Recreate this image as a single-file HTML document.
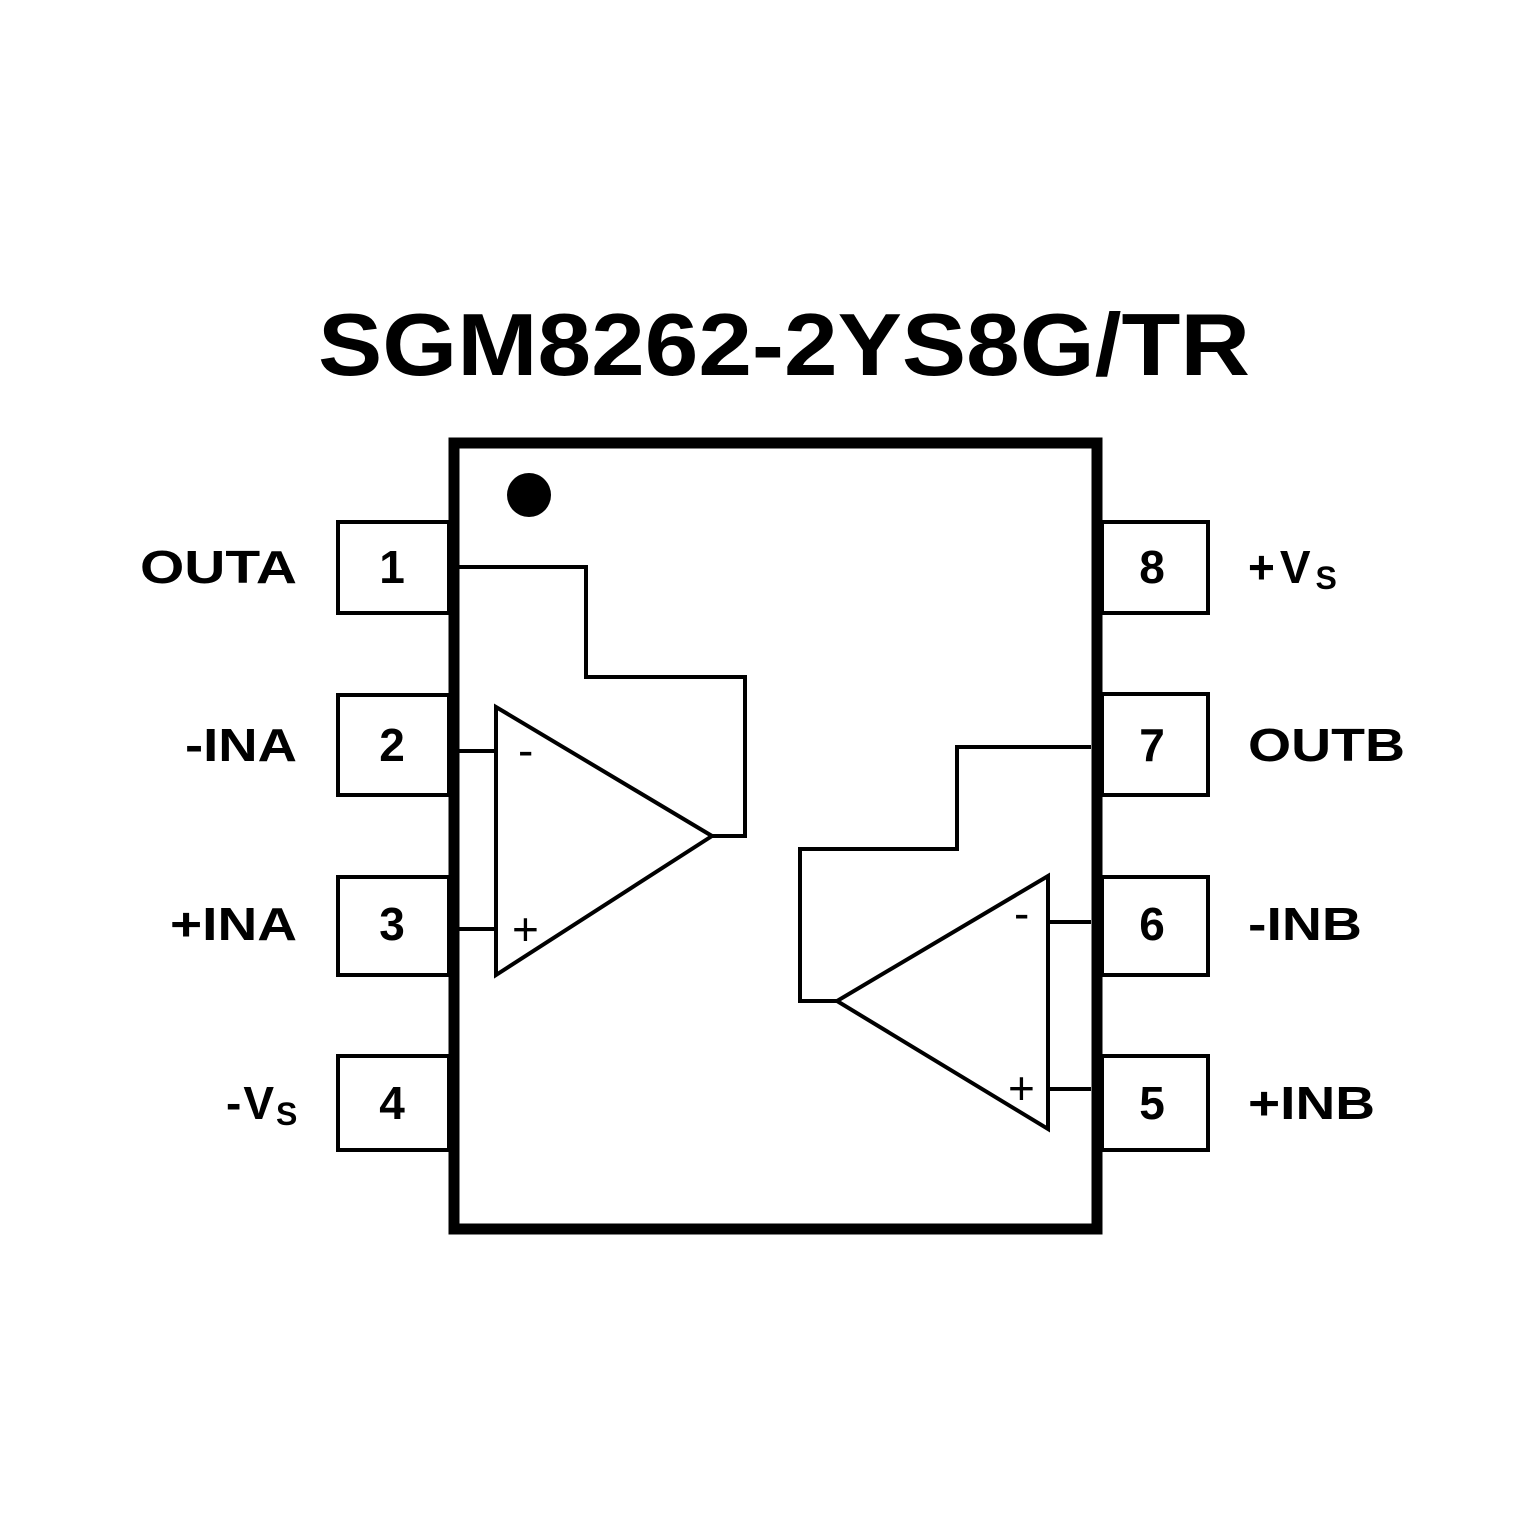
<!DOCTYPE html>
<html><head><meta charset="utf-8"><style>html,body{margin:0;padding:0;background:#fff}</style></head>
<body>
<svg width="1535" height="1535" viewBox="0 0 1535 1535" xmlns="http://www.w3.org/2000/svg">
<rect width="1535" height="1535" fill="#fff"/>
<text x="318" y="375" font-family="Liberation Sans, sans-serif" font-weight="bold" font-size="88" textLength="932" lengthAdjust="spacingAndGlyphs">SGM8262-2YS8G/TR</text>
<g fill="none" stroke="#000" stroke-width="4">
<rect x="338" y="522" width="111" height="91"/>
<rect x="338" y="695" width="111" height="100"/>
<rect x="338" y="877" width="111" height="98"/>
<rect x="338" y="1056" width="111" height="94"/>
<rect x="1102" y="522" width="106" height="91"/>
<rect x="1102" y="694" width="106" height="101"/>
<rect x="1102" y="877" width="106" height="98"/>
<rect x="1102" y="1056" width="106" height="94"/>
</g>
<rect x="454" y="443" width="643" height="786" fill="#fff" stroke="#000" stroke-width="11"/>
<circle cx="529" cy="495" r="22" fill="#000"/>
<g fill="none" stroke="#000" stroke-width="4">
<polygon points="496,707 496,975 712,836"/>
<polyline points="459,751 496,751"/>
<polyline points="459,929 496,929"/>
<polyline points="712,836 745,836 745,677 586,677 586,567 459,567"/>
<polygon points="1048,876 1048,1129 837,1001"/>
<polyline points="1091,922 1048,922"/>
<polyline points="1091,1089 1048,1089"/>
<polyline points="837,1001 800,1001 800,849 957,849 957,747 1091,747"/>
</g>
<g font-family="Liberation Sans, sans-serif" font-size="46" fill="#000">
<text x="518" y="766">-</text>
<text x="512" y="945">+</text>
<text x="1014" y="929">-</text>
<text x="1008" y="1104">+</text>
</g>
<g font-family="Liberation Sans, sans-serif" font-weight="bold" font-size="46" fill="#000">
<text x="392" y="583" text-anchor="middle">1</text>
<text x="392" y="761" text-anchor="middle">2</text>
<text x="392" y="940" text-anchor="middle">3</text>
<text x="392" y="1119" text-anchor="middle">4</text>
<text x="1152" y="583" text-anchor="middle">8</text>
<text x="1152" y="761" text-anchor="middle">7</text>
<text x="1152" y="940" text-anchor="middle">6</text>
<text x="1152" y="1119" text-anchor="middle">5</text>
<text x="140" y="583" textLength="157" lengthAdjust="spacingAndGlyphs">OUTA</text>
<text x="185" y="761" textLength="112" lengthAdjust="spacingAndGlyphs">-INA</text>
<text x="170" y="940" textLength="127" lengthAdjust="spacingAndGlyphs">+INA</text>
<text x="226" y="1119" letter-spacing="2">-V<tspan font-size="32" dy="6">S</tspan></text>
<text x="1248" y="583" letter-spacing="5">+V<tspan font-size="32" dy="6">S</tspan></text>
<text x="1248" y="761" textLength="157" lengthAdjust="spacingAndGlyphs">OUTB</text>
<text x="1248" y="940" textLength="114" lengthAdjust="spacingAndGlyphs">-INB</text>
<text x="1248" y="1119" textLength="127" lengthAdjust="spacingAndGlyphs">+INB</text>
</g>
</svg>
</body></html>
